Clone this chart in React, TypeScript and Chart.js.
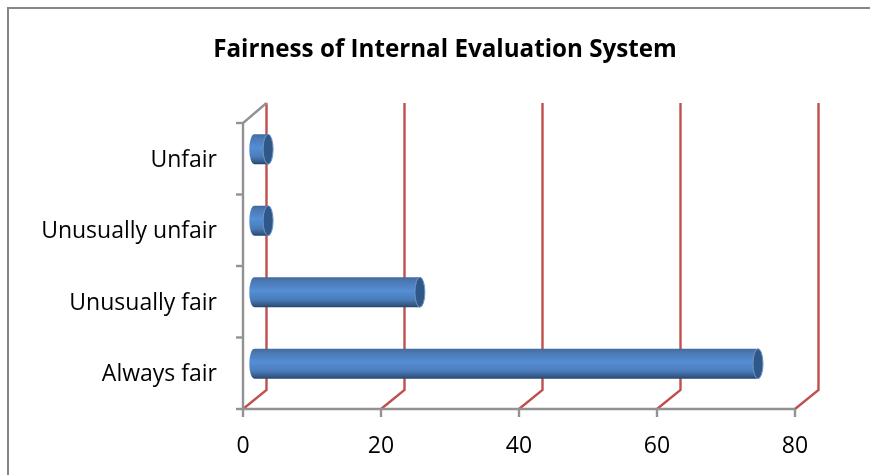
import React, { useEffect, useRef } from "react";
import { Chart, registerables } from "chart.js";

Chart.register(...registerables);

const titleText = "Fairness of Internal Evaluation System";
const categories = ["Unfair", "Unusually unfair", "Unusually fair", "Always fair"];
const seriesValues = [2, 2, 24, 73];
const xTicks = [0, 20, 40, 60, 80];

const FONT = "'Open Sans', Lato, sans-serif";
const DEPTH_X = 23.5;
const DEPTH_Y = 19;
const GREY = "#929292";
const RED = "#c0504d";

const wallsPlugin = {
  id: "walls",
  beforeDatasetsDraw(chart: any) {
    const { ctx, scales, chartArea } = chart;
    const { top, bottom, left } = chartArea;
    ctx.save();
    ctx.lineWidth = 2.4;
    xTicks.forEach((t) => {
      const x = scales.x.getPixelForValue(t);
      ctx.strokeStyle = RED;
      ctx.beginPath();
      ctx.moveTo(x, bottom);
      ctx.lineTo(x + DEPTH_X, bottom - DEPTH_Y);
      ctx.lineTo(x + DEPTH_X, top - DEPTH_Y - 1);
      ctx.stroke();
    });
    ctx.strokeStyle = GREY;
    ctx.beginPath();
    ctx.moveTo(left + DEPTH_X, top - DEPTH_Y - 1);
    ctx.lineTo(left, top);
    ctx.lineTo(left, bottom);
    ctx.lineTo(scales.x.getPixelForValue(80), bottom);
    ctx.stroke();
    const band = (bottom - top) / categories.length;
    for (let i = 0; i <= categories.length; i++) {
      const y = top + i * band;
      ctx.beginPath();
      ctx.moveTo(left - 7, y);
      ctx.lineTo(left, y);
      ctx.stroke();
    }
    xTicks.forEach((t) => {
      const x = scales.x.getPixelForValue(t);
      ctx.beginPath();
      ctx.moveTo(x, bottom);
      ctx.lineTo(x, bottom + 8);
      ctx.stroke();
    });
    ctx.restore();
  },
};

const cylinderPlugin = {
  id: "cylinders",
  afterDatasetsDraw(chart: any) {
    const { ctx } = chart;
    const meta = chart.getDatasetMeta(0);
    const ox = 11.3;
    meta.data.forEach((bar: any) => {
      const x0 = bar.base + ox;
      const x1 = bar.x + ox;
      const cy = bar.y - 9.5;
      const r = 15;
      const rx = 5;
      const g = ctx.createLinearGradient(0, cy - r, 0, cy + r);
      g.addColorStop(0, "#44699a");
      g.addColorStop(0.12, "#4a78b2");
      g.addColorStop(0.45, "#558ed6");
      g.addColorStop(0.75, "#4a7cb8");
      g.addColorStop(0.92, "#335a8a");
      g.addColorStop(1, "#25456c");
      ctx.save();
      ctx.fillStyle = g;
      ctx.beginPath();
      ctx.ellipse(x0, cy, rx, r, 0, Math.PI / 2, (Math.PI * 3) / 2);
      ctx.lineTo(x1, cy - r);
      ctx.lineTo(x1, cy + r);
      ctx.closePath();
      ctx.fill();
      ctx.fillStyle = "#2f5888";
      ctx.strokeStyle = "#6f97c6";
      ctx.lineWidth = 1;
      ctx.beginPath();
      ctx.ellipse(x1, cy, rx, r, 0, 0, Math.PI * 2);
      ctx.fill();
      ctx.stroke();
      ctx.restore();
    });
  },
};

export default function App() {
  const ref = useRef<HTMLCanvasElement | null>(null);
  useEffect(() => {
    if (!ref.current) return;
    const chart = new Chart(ref.current, {
      type: "bar",
      data: {
        labels: categories,
        datasets: [
          {
            data: seriesValues,
            backgroundColor: "rgba(0,0,0,0)",
            borderWidth: 0,
          },
        ],
      },
      options: {
        indexAxis: "y",
        animation: false,
        responsive: false,
        maintainAspectRatio: false,
        layout: { padding: { left: 20, right: 0, top: 0, bottom: 0 } },
        plugins: {
          legend: { display: false },
          tooltip: { enabled: false },
          title: {
            display: true,
            text: titleText,
            color: "#000000",
            font: { family: FONT, size: 24.2, weight: "bold" },
            padding: { top: 35.5, bottom: 58.46 },
          },
        },
        scales: {
          x: {
            min: 0,
            max: 80,
            afterBuildTicks(axis: any) {
              axis.ticks = xTicks.map((value) => ({ value }));
            },
            grid: { display: false },
            border: { display: false },
            afterFit(axis: any) {
              axis.height = 66;
            },
            ticks: {
              color: "#000000",
              padding: 15.5,
              maxRotation: 0,
              font: { family: FONT, size: 23 },
            },
          },
          y: {
            grid: { display: false },
            border: { display: false },
            afterFit(axis: any) {
              axis.width = 223;
            },
            ticks: {
              color: "#000000",
              padding: 18,
              labelOffset: 1.5,
              font: { family: FONT, size: 23 },
            },
          },
          rightGutter: {
            type: "linear",
            position: "right",
            grid: { display: false },
            border: { display: false },
            ticks: { display: false },
            afterFit(axis: any) {
              axis.width = 75;
            },
          },
        },
      },
      plugins: [wallsPlugin, cylinderPlugin],
    } as any);
    return () => chart.destroy();
  }, []);
  return (
    <div
      style={{
        position: "fixed",
        left: 0,
        top: 0,
        width: 870,
        height: 475,
        background: "#ffffff",
        overflow: "hidden",
      }}
    >
      <div
        style={{
          position: "absolute",
          left: 7,
          top: 7,
          width: 880,
          height: 500,
          border: "2px solid #868686",
          boxSizing: "border-box",
        }}
      />
      <canvas
        ref={ref}
        width={870}
        height={475}
        style={{ position: "absolute", left: 0, top: 0, display: "block" }}
      />
    </div>
  );
}
